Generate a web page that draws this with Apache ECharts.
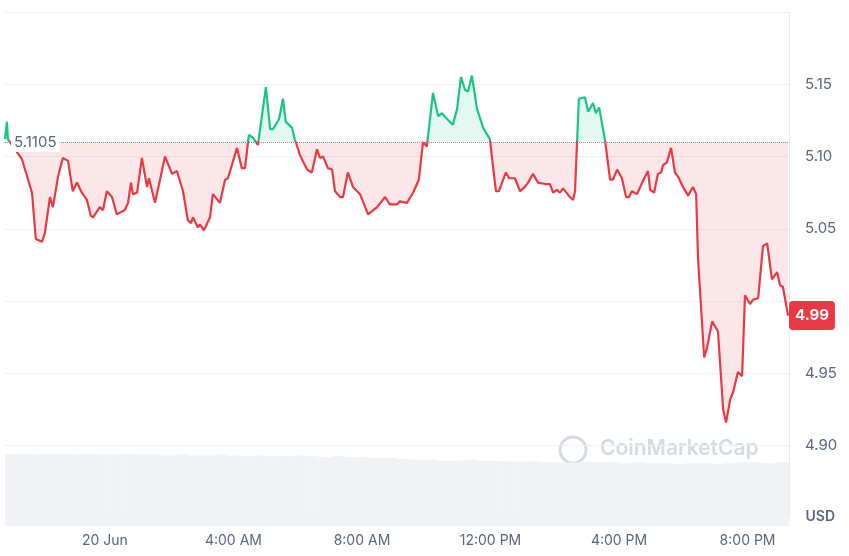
<!DOCTYPE html>
<html><head><meta charset="utf-8">
<script src="https://cdn.jsdelivr.net/npm/echarts@6/dist/echarts.min.js"></script>
<style>html,body{margin:0;padding:0;background:#fff}#c{width:849px;height:556px}</style>
</head><body><div id="c"></div>
<script>
// [hours relative to 20 Jun 00:00, price USD]
const pricePoints = [[-3.11,5.112],[-3.05,5.124],[-3.02,5.112],[-2.58,5.098],[-2.27,5.075],[-2.15,5.043],[-1.96,5.041],[-1.87,5.047],[-1.71,5.072],[-1.62,5.065],[-1.46,5.086],[-1.31,5.099],[-1.15,5.097],[-1.00,5.076],[-0.87,5.082],[-0.72,5.075],[-0.56,5.070],[-0.44,5.059],[-0.37,5.058],[-0.16,5.065],[-0.06,5.063],[0.06,5.076],[0.22,5.072],[0.37,5.060],[0.62,5.063],[0.72,5.068],[0.81,5.082],[0.87,5.074],[1.00,5.075],[1.15,5.099],[1.31,5.079],[1.37,5.085],[1.56,5.068],[1.87,5.100],[2.09,5.088],[2.24,5.090],[2.43,5.076],[2.58,5.056],[2.68,5.054],[2.74,5.058],[2.89,5.051],[2.96,5.053],[3.08,5.049],[3.27,5.058],[3.36,5.074],[3.58,5.068],[3.74,5.084],[3.83,5.085],[4.11,5.106],[4.26,5.092],[4.36,5.092],[4.48,5.115],[4.61,5.113],[4.76,5.108],[5.01,5.148],[5.14,5.119],[5.23,5.119],[5.42,5.126],[5.54,5.140],[5.63,5.124],[5.82,5.120],[5.91,5.112],[6.07,5.101],[6.29,5.091],[6.44,5.089],[6.60,5.105],[6.69,5.099],[6.79,5.100],[6.94,5.092],[7.07,5.091],[7.16,5.076],[7.32,5.072],[7.41,5.072],[7.56,5.089],[7.72,5.079],[7.94,5.074],[8.19,5.060],[8.47,5.065],[8.72,5.072],[8.87,5.067],[9.09,5.067],[9.18,5.069],[9.40,5.068],[9.59,5.075],[9.77,5.084],[9.81,5.084],[9.90,5.110],[10.02,5.107],[10.21,5.144],[10.37,5.128],[10.49,5.130],[10.65,5.126],[10.83,5.122],[10.96,5.133],[11.08,5.155],[11.21,5.146],[11.30,5.145],[11.42,5.156],[11.58,5.133],[11.77,5.120],[11.98,5.112],[12.17,5.076],[12.26,5.076],[12.48,5.089],[12.58,5.085],[12.76,5.085],[12.92,5.076],[13.07,5.079],[13.17,5.082],[13.32,5.088],[13.48,5.082],[13.70,5.081],[13.85,5.081],[13.95,5.075],[14.07,5.077],[14.16,5.075],[14.26,5.078],[14.47,5.072],[14.57,5.070],[14.63,5.076],[14.75,5.140],[14.94,5.141],[15.04,5.131],[15.19,5.137],[15.28,5.130],[15.38,5.134],[15.56,5.112],[15.72,5.084],[15.81,5.084],[15.94,5.091],[16.09,5.085],[16.22,5.072],[16.31,5.072],[16.40,5.076],[16.56,5.074],[16.72,5.082],[16.90,5.090],[16.97,5.077],[17.09,5.075],[17.21,5.088],[17.31,5.089],[17.37,5.094],[17.49,5.096],[17.62,5.106],[17.74,5.089],[17.84,5.086],[17.99,5.079],[18.15,5.073],[18.30,5.079],[18.40,5.074],[18.46,5.029],[18.65,4.961],[18.74,4.968],[18.90,4.986],[19.08,4.979],[19.24,4.925],[19.33,4.916],[19.46,4.932],[19.55,4.937],[19.70,4.951],[19.83,4.948],[19.92,5.004],[20.08,4.998],[20.17,5.001],[20.33,5.002],[20.48,5.038],[20.61,5.040],[20.76,5.015],[20.92,5.020],[21.01,5.011],[21.10,5.010],[21.26,4.990]];
const xTickHours = [0,4,8,12,16,20];
const xTickLabels = ['20 Jun','4:00 AM','8:00 AM','12:00 PM','4:00 PM','8:00 PM'];
const yTickLabels = ['4.90','4.95','5.05','5.10','5.15'];
const openPrice = 5.1105;
const lastPrice = 4.99;
const volumes = [84,84,83,84,84,83,84,83,83,84,83,83,82,83,82,82,83,82,81,82,81,81,82,81,80,81,80,80,79,79,78,77,77,76,76,77,76,76,75,75,75,74,74,74,75,74,74,73,74,73,73,72,73,73,72,73,74,74,73,74];

const chart = echarts.init(document.getElementById('c'));
chart.setOption({
  animation:false,
  grid:[{left:5,right:60,top:12,bottom:38},{left:5,right:60,top:440,bottom:30}],
  xAxis:[{type:'value',min:-3.11,max:21.29,axisLine:{show:false},axisTick:{show:false},splitLine:{show:false},
    axisLabel:{customValues:xTickHours,formatter:v=>xTickLabels[xTickHours.indexOf(v)]||'',color:'#58667e',fontSize:14,fontFamily:'Inter',margin:16}},
    {type:'category',gridIndex:1,show:false,data:volumes.map((v,i)=>i)}],
  yAxis:[{type:'value',position:'right',min:4.85,max:5.20,interval:0.05,
    axisLine:{show:true,onZero:false,lineStyle:{color:'#e6e9ee'}},axisTick:{show:false},
    splitLine:{lineStyle:{color:'#eff2f5'}},
    axisLabel:{color:'#58667e',fontSize:15,fontFamily:'Inter',margin:16,
      formatter:v=>yTickLabels.includes(v.toFixed(2))?v.toFixed(2):''}},
    {type:'value',gridIndex:1,min:0,max:100,show:false}],
  visualMap:{show:false,type:'piecewise',dimension:1,seriesIndex:1,
    pieces:[{gt:openPrice,lte:6,color:'#16c784'},{gt:4,lte:openPrice,color:'#ea3943'}]},
  graphic:[
    {type:'text',right:14,top:510,style:{text:'USD',fill:'#58667e',font:'600 14px Inter'}},
    {type:'circle',shape:{cx:573,cy:450,r:13},style:{fill:'none',stroke:'#d5dae2',lineWidth:3}},
    {type:'text',left:600,top:438,style:{text:'CoinMarketCap',fill:'#d5dae2',font:'600 21px Inter'}}
  ],
  series:[
    {type:'bar',xAxisIndex:1,yAxisIndex:1,data:volumes,barCategoryGap:'0%',itemStyle:{color:'#f0f2f5'}},
    {type:'line',data:pricePoints,symbol:'none',lineStyle:{width:2.2},clip:false,
     areaStyle:{origin:openPrice,opacity:0.12},
     markLine:{silent:true,symbol:'none',data:[
       {yAxis:openPrice,lineStyle:{type:'dotted',color:'#8a929e',width:1},
        label:{show:true,position:'insideStartTop',formatter:'5.1105',color:'#58667e',fontSize:15,fontFamily:'Inter',backgroundColor:'#fff',padding:[2,3],distance:[6,-10]}},
       {yAxis:lastPrice,lineStyle:{color:'rgba(0,0,0,0)',width:1,type:'solid'},
        label:{show:true,position:'end',formatter:'4.99',color:'#fff',fontWeight:'bold',fontSize:15,fontFamily:'Inter',backgroundColor:'#ea3943',borderRadius:4,padding:[7,6],distance:0}}
     ]}}
  ]
});
</script></body></html>
